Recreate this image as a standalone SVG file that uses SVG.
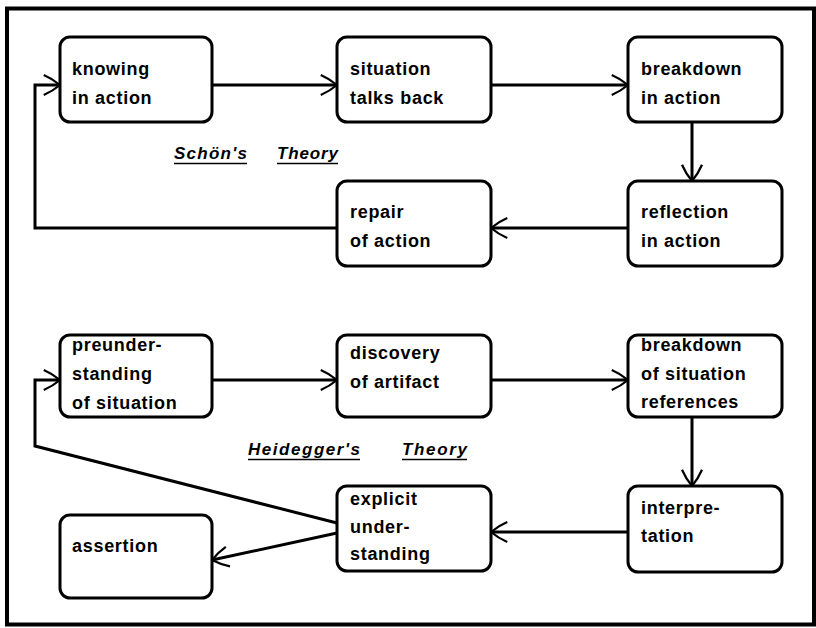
<svg xmlns="http://www.w3.org/2000/svg" width="816" height="628" viewBox="0 0 816 628">
  <style>
    .node rect { fill: #ffffff; stroke: #000000; stroke-width: 3; }
    .node text { font-family: "Liberation Sans", Arial, sans-serif; font-weight: bold; font-size: 18px; letter-spacing: 0.7px; fill: #000000; }
    .title { font-family: "Liberation Sans", Arial, sans-serif; font-weight: bold; font-style: italic; font-size: 17px; fill: #000000; }
    .uline { stroke: #000000; stroke-width: 1.5; }
    #connectors path { fill: none; stroke: #000000; stroke-width: 3; marker-end: url(#barb); }
  </style>
  <defs>
    <marker id="barb" markerUnits="userSpaceOnUse" markerWidth="30" markerHeight="30" viewBox="-16 -12 20 24" refX="0" refY="0" orient="auto" overflow="visible">
      <path d="M-13,-8 Q-6,-5 0,0 M-13,8 Q-6,5 0,0" fill="none" stroke="#000000" stroke-width="1.8"/>
    </marker>
  </defs>

  <rect width="816" height="628" fill="#ffffff"/>
  <!-- outer frame -->
  <rect x="7" y="8.5" width="807" height="616" fill="none" stroke="#000000" stroke-width="4"/>

  <!-- section titles -->
  <g id="title-schoen">
    <text class="title" x="174" y="159" textLength="73" lengthAdjust="spacing">Schön's</text>
    <line class="uline" x1="174" y1="163.5" x2="247" y2="163.5"/>
    <text class="title" x="277" y="159" textLength="61" lengthAdjust="spacing">Theory</text>
    <line class="uline" x1="277" y1="163.5" x2="338" y2="163.5"/>
  </g>
  <g id="title-heidegger">
    <text class="title" x="248" y="455" textLength="112" lengthAdjust="spacing">Heidegger's</text>
    <line class="uline" x1="248" y1="459.5" x2="360" y2="459.5"/>
    <text class="title" x="402" y="455" textLength="65" lengthAdjust="spacing">Theory</text>
    <line class="uline" x1="402" y1="459.5" x2="467" y2="459.5"/>
  </g>

  <!-- connectors -->
  <g id="connectors">
    <path d="M212,85 H337"/>
    <path d="M491,85 H628"/>
    <path d="M692,122 V181"/>
    <path d="M628,228 H491"/>
    <path d="M337,228 H35 V85 H60"/>
    <path d="M212,380 H337"/>
    <path d="M491,380 H628"/>
    <path d="M692,417 V486"/>
    <path d="M628,532 H491"/>
    <path d="M337,523 L35,446 V380 H60"/>
    <path d="M337,533 L212,560"/>
  </g>

  <!-- Schön's cycle -->
  <g id="knowing-in-action" class="node">
    <rect x="60" y="37" width="152" height="85" rx="10"/>
    <text x="72" y="75">knowing</text>
    <text x="72" y="104">in action</text>
  </g>
  <g id="situation-talks-back" class="node">
    <rect x="337" y="37" width="154" height="85" rx="10"/>
    <text x="350" y="75">situation</text>
    <text x="350" y="104">talks back</text>
  </g>
  <g id="breakdown-in-action" class="node">
    <rect x="628" y="37" width="154" height="85" rx="10"/>
    <text x="641" y="75">breakdown</text>
    <text x="641" y="104">in action</text>
  </g>
  <g id="reflection-in-action" class="node">
    <rect x="628" y="181" width="154" height="85" rx="10"/>
    <text x="641" y="218">reflection</text>
    <text x="641" y="247">in action</text>
  </g>
  <g id="repair-of-action" class="node">
    <rect x="337" y="181" width="154" height="85" rx="10"/>
    <text x="350" y="218">repair</text>
    <text x="350" y="247">of action</text>
  </g>

  <!-- Heidegger's cycle -->
  <g id="preunderstanding" class="node">
    <rect x="60" y="335" width="152" height="82" rx="10"/>
    <text x="72" y="351">preunder-</text>
    <text x="72" y="380">standing</text>
    <text x="72" y="409">of situation</text>
  </g>
  <g id="discovery-of-artifact" class="node">
    <rect x="337" y="335" width="154" height="82" rx="10"/>
    <text x="350" y="359">discovery</text>
    <text x="350" y="388">of artifact</text>
  </g>
  <g id="breakdown-of-references" class="node">
    <rect x="628" y="335" width="154" height="82" rx="10"/>
    <text x="641" y="351">breakdown</text>
    <text x="641" y="380">of situation</text>
    <text x="641" y="408">references</text>
  </g>
  <g id="interpretation" class="node">
    <rect x="628" y="486" width="154" height="86" rx="10"/>
    <text x="641" y="514">interpre-</text>
    <text x="641" y="542">tation</text>
  </g>
  <g id="explicit-understanding" class="node">
    <rect x="337" y="486" width="154" height="85" rx="10"/>
    <text x="350" y="505">explicit</text>
    <text x="350" y="533">under-</text>
    <text x="350" y="560">standing</text>
  </g>
  <g id="assertion" class="node">
    <rect x="60" y="515" width="152" height="83" rx="10"/>
    <text x="72" y="552">assertion</text>
  </g>
</svg>
